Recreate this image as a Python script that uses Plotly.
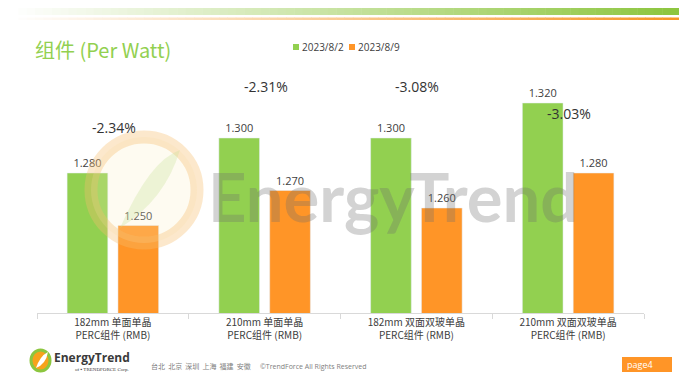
import plotly.graph_objects as go

categories = ["182mm 单面单晶<br>PERC组件 (RMB)", "210mm 单面单晶<br>PERC组件 (RMB)",
              "182mm 双面双玻单晶<br>PERC组件 (RMB)", "210mm 双面双玻单晶<br>PERC组件 (RMB)"]
series_names = ["2023/8/2", "2023/8/9"]
price_0802 = [1.280, 1.300, 1.300, 1.320]
price_0809 = [1.250, 1.270, 1.260, 1.280]
pct_change = ["-2.34%", "-2.31%", "-3.08%", "-3.03%"]

GREEN = "#92D050"
ORANGE = "#FF9527"
TXT = "#404040"
FONT = "Noto Sans CJK SC, Open Sans, sans-serif"

W, H = 679, 377
def px(x):
    return x / W
def py(y):
    return 1 - y / H

fig = go.Figure()
fig.add_trace(go.Bar(name=series_names[0], x=categories, y=price_0802, marker_color=GREEN,
                     text=[f"{v:.3f}" for v in price_0802], textposition="outside",
                     textfont=dict(size=11, color=TXT, family="Open Sans"), cliponaxis=False))
fig.add_trace(go.Bar(name=series_names[1], x=categories, y=price_0809, marker_color=ORANGE,
                     text=[f"{v:.3f}" for v in price_0809], textposition="outside",
                     textfont=dict(size=11, color=TXT, family="Open Sans"), cliponaxis=False))

shapes = []
annotations = []

# top decorative gradient bars
n = 80
x0, x1 = 10, 679
for i in range(n):
    a = i / (n - 1)
    r = int(255 + (141 - 255) * a)
    g = int(255 + (198 - 255) * a)
    b = int(255 + (63 - 255) * a)
    xa = x0 + (x1 - x0) * i / n
    xb = x0 + (x1 - x0) * (i + 1) / n + 0.5
    shapes.append(dict(type="rect", xref="paper", yref="paper", x0=px(xa), x1=px(xb),
                       y0=py(15), y1=py(8), fillcolor=f"rgb({r},{g},{b})", line_width=0, layer="below"))
    r2 = int(255 + (247 - 255) * a)
    g2 = int(255 + (150 - 255) * a)
    b2 = int(255 + (40 - 255) * a)
    shapes.append(dict(type="rect", xref="paper", yref="paper", x0=px(xa), x1=px(xb),
                       y0=py(20), y1=py(17.5), fillcolor=f"rgb({r2},{g2},{b2})", line_width=0, layer="below"))

# title
annotations.append(dict(text="组件 (Per Watt)", xref="paper", yref="paper", x=px(33), y=py(50),
                        xanchor="left", yanchor="middle", showarrow=False,
                        font=dict(size=20, color=GREEN, family=FONT)))

# legend (manual)
leg = [(293, GREEN, series_names[0]), (349, ORANGE, series_names[1])]
for lx, col, name in leg:
    shapes.append(dict(type="rect", xref="paper", yref="paper", x0=px(lx), x1=px(lx + 6),
                       y0=py(50), y1=py(44), fillcolor=col, line_width=0))
    annotations.append(dict(text=name, xref="paper", yref="paper", x=px(lx + 7), y=py(47),
                            xanchor="left", yanchor="middle", showarrow=False,
                            font=dict(size=10, color=TXT, family="Open Sans")))

# percentage annotations
pct_y = [127, 86, 86, 113]
for c, t, yy in zip(categories, pct_change, pct_y):
    annotations.append(dict(text=t, xref="x", yref="paper", x=c, y=py(yy), showarrow=False,
                            xanchor="center", yanchor="middle", xshift=1,
                            font=dict(size=14, color="#333333", family="Open Sans")))

# watermark logo circle + text
shapes.append(dict(type="circle", xref="paper", yref="paper", x0=px(91), x1=px(197),
                   y0=py(243), y1=py(137), fillcolor="rgba(250,235,190,0.22)",
                   line=dict(color="rgba(245,190,110,0.35)", width=13), layer="above"))
shapes.append(dict(type="path", xref="paper", yref="paper",
                   path=f"M {px(120)} {py(228)} Q {px(150)} {py(160)} {px(180)} {py(150)} Q {px(165)} {py(200)} {px(120)} {py(228)} Z",
                   fillcolor="rgba(200,225,150,0.3)", line_width=0, layer="above"))
annotations.append(dict(text="<b>EnergyTrend</b>", xref="paper", yref="paper", x=px(393), y=py(196),
                        xanchor="center", yanchor="middle", showarrow=False,
                        font=dict(size=67, color="rgba(110,110,110,0.3)", family="Lato, Open Sans")))

# footer
shapes.append(dict(type="circle", xref="paper", yref="paper", x0=px(31), x1=px(50),
                   y0=py(371), y1=py(350), fillcolor="#F7A21B",
                   line=dict(color="#8CC63F", width=3)))
shapes.append(dict(type="path", xref="paper", yref="paper",
                   path=f"M {px(36)} {py(368)} Q {px(40)} {py(356)} {px(48)} {py(352)} Q {px(46)} {py(364)} {px(36)} {py(368)} Z",
                   fillcolor="white", line_width=0))
annotations.append(dict(text="<b>EnergyTrend</b>", xref="paper", yref="paper", x=px(52), y=py(357),
                        xanchor="left", yanchor="middle", showarrow=False,
                        font=dict(size=12, color="#3A3A3A", family="Open Sans")))
annotations.append(dict(text="of ▪ TRENDFORCE Corp.", xref="paper", yref="paper", x=px(73), y=py(369),
                        xanchor="left", yanchor="middle", showarrow=False,
                        font=dict(size=5, color="#3A3A3A", family="Liberation Serif")))
annotations.append(dict(text="台北  北京  深圳  上海  福建  安徽", xref="paper", yref="paper", x=px(149), y=py(366),
                        xanchor="left", yanchor="middle", showarrow=False,
                        font=dict(size=7, color="#808080", family=FONT)))
annotations.append(dict(text="©TrendForce All Rights Reserved", xref="paper", yref="paper", x=px(258), y=py(366),
                        xanchor="left", yanchor="middle", showarrow=False,
                        font=dict(size=7, color="#808080", family="Open Sans")))
shapes.append(dict(type="rect", xref="paper", yref="paper", x0=px(622), x1=px(672),
                   y0=py(372), y1=py(357), fillcolor="#FF9527", line_width=0))
annotations.append(dict(text="page4", xref="paper", yref="paper", x=px(625), y=py(364.5),
                        xanchor="left", yanchor="middle", showarrow=False,
                        font=dict(size=9, color="white", family="Open Sans")))

fig.update_layout(
    width=W, height=H, margin=dict(l=0, r=0, t=0, b=0),
    paper_bgcolor="white", plot_bgcolor="white",
    barmode="group", bargap=0.33, bargroupgap=0.2,
    showlegend=False,
    shapes=shapes, annotations=annotations,
    font=dict(family=FONT, color=TXT),
    xaxis=dict(domain=[px(37), px(644)], showline=True, linecolor="#D9D9D9", linewidth=1,
               ticks="outside", tickson="boundaries", ticklen=5, tickcolor="#D9D9D9",
               tickfont=dict(size=10, color=TXT, family=FONT), showgrid=False),
    yaxis=dict(domain=[py(313), py(68)], range=[1.2, 1.34], visible=False, showgrid=False),
)

fig.write_html("out.html", config={"displayModeBar": False},
               post_script="document.body.style.margin='0px';document.body.style.overflow='hidden';")
